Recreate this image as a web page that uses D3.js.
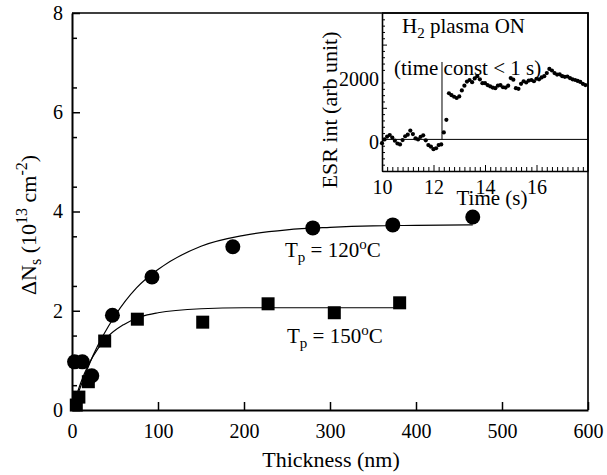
<!DOCTYPE html>
<html><head><meta charset="utf-8">
<script src="https://cdn.jsdelivr.net/npm/d3@7"></script>
<style>
html,body{margin:0;padding:0;background:#fff;}
svg text{font-family:"Liberation Serif","Times New Roman",serif;fill:#000;}
</style></head>
<body>
<svg id="chart" width="607" height="475"></svg>
<script>
// ---- Main chart data ----
const thick120 = [3, 12, 23, 47, 93, 187, 280, 373, 466];
const dNs120   = [0.97, 0.97, 0.69, 1.91, 2.68, 3.29, 3.67, 3.73, 3.89];
const thick150 = [5, 8, 19, 38, 76, 152, 228, 305, 381];
const dNs150   = [0.1, 0.26, 0.57, 1.39, 1.83, 1.77, 2.14, 1.96, 2.16];
// fitted curves
const fitX120 = [0, 25, 50, 75, 100, 150, 200, 250, 300, 350, 400, 466];
const fitY120 = [0, 1.12, 1.90, 2.46, 2.83, 3.30, 3.52, 3.63, 3.68, 3.71, 3.72, 3.73];
const fitX150 = [0, 10, 20, 30, 40, 60, 80, 100, 150, 200, 250, 381];
const fitY150 = [0, 0.54, 0.94, 1.23, 1.45, 1.72, 1.88, 1.96, 2.04, 2.06, 2.06, 2.06];
const xTicks = [0, 100, 200, 300, 400, 500, 600];
const yTicks = [0, 2, 4, 6, 8];

// ---- Inset data (ESR intensity vs time) ----
const esrTime = [
 10.0,10.1,10.2,10.3,10.4,10.5,10.6,10.7,10.8,10.9,
 11.0,11.1,11.2,11.3,11.4,11.5,11.6,11.7,11.8,11.9,
 12.0,12.1,12.2,12.3,12.4,12.5,12.6,12.7,12.8,12.9,
 13.0,13.1,13.2,13.3,13.4,13.5,13.6,13.7,13.8,13.9,
 14.0,14.1,14.2,14.3,14.4,14.5,14.6,14.7,14.8,14.9,
 15.0,15.1,15.2,15.3,15.4,15.5,15.6,15.7,15.8,15.9,
 16.0,16.1,16.2,16.3,16.4,16.5,16.6,16.7,16.8,16.9,
 17.0,17.1,17.2,17.3,17.4,17.5,17.6,17.7,17.8,17.9];
const esrInt = [
 -120,0,90,140,60,-40,-130,-160,-20,100,
 150,280,170,30,0,80,130,-30,-180,-230,
 -310,-280,-180,-160,220,620,1460,1400,1350,1310,
 1360,1550,1700,1830,1880,1810,1930,2000,1900,1780,
 1780,1720,1680,1640,1620,1700,1720,1650,1640,1700,
 1940,1890,1620,1600,1760,1840,1800,1860,1880,1840,
 1920,1900,1960,2000,2100,2230,2180,2100,2050,2060,
 2000,1980,1990,1940,1900,1880,1850,1820,1760,1720];
const insetXTicks = [10, 12, 14, 16];
const insetYTicks = [0, 2000];
const stepTime = 12.33;

const svg = d3.select("#chart");

// ---- Main scales ----
const x = d3.scaleLinear().domain([0, 600]).range([72, 588]);
const y = d3.scaleLinear().domain([0, 8]).range([410, 13]);

// frame (top and right)
svg.append("path").attr("d", `M${x(0)},${y(8)}H${x(600)}V${y(0)}`)
  .attr("fill","none").attr("stroke","#000").attr("stroke-width",1.6);

// bottom axis
const xAxis = d3.axisBottom(x).tickValues(xTicks).tickSizeInner(-8).tickSizeOuter(0).tickPadding(14);
const gx = svg.append("g").attr("transform",`translate(0,${y(0)})`).call(xAxis);
gx.select(".domain").attr("stroke-width",2);
gx.selectAll(".tick line").attr("stroke-width",1.5);
gx.selectAll("text").attr("font-size",20).attr("font-family","Liberation Serif").attr("dy","0.71em");

// left axis major
const yAxis = d3.axisLeft(y).tickValues(yTicks).tickSizeInner(-8).tickSizeOuter(0).tickPadding(9);
const gy = svg.append("g").attr("transform",`translate(${x(0)},0)`).call(yAxis);
gy.select(".domain").attr("stroke-width",2);
gy.selectAll(".tick line").attr("stroke-width",1.5);
gy.selectAll("text").attr("font-size",20).attr("font-family","Liberation Serif");
// left axis minor
const yMinor = d3.range(0.5, 8, 1);
svg.append("g").attr("transform",`translate(${x(0)},0)`)
  .call(d3.axisLeft(y).tickValues(yMinor).tickSizeInner(-5).tickSizeOuter(0).tickFormat(""))
  .call(g => g.select(".domain").remove())
  .selectAll("line").attr("stroke-width",1.5);

// fitted curves
const line = d3.line().x(d => x(d[0])).y(d => y(d[1])).curve(d3.curveMonotoneX);
svg.append("path").datum(fitX120.map((v,i)=>[v,fitY120[i]]))
  .attr("d", line).attr("fill","none").attr("stroke","#000").attr("stroke-width",1.2);
svg.append("path").datum(fitX150.map((v,i)=>[v,fitY150[i]]))
  .attr("d", line).attr("fill","none").attr("stroke","#000").attr("stroke-width",1.2);

// markers
svg.append("g").selectAll("rect").data(thick150.map((v,i)=>[v,dNs150[i]])).join("rect")
  .attr("x", d => x(d[0]) - 6.5).attr("y", d => y(d[1]) - 6.5)
  .attr("width", 13).attr("height", 13).attr("fill","#000");
svg.append("g").selectAll("circle").data(thick120.map((v,i)=>[v,dNs120[i]])).join("circle")
  .attr("cx", d => x(d[0])).attr("cy", d => y(d[1])).attr("r", 7.5).attr("fill","#000");

// annotations
function tpLabel(tx, ty, temp){
  const t = svg.append("text").attr("x", tx).attr("y", ty).attr("font-size", 21);
  t.append("tspan").text("T");
  t.append("tspan").attr("dy", 5).attr("font-size", 15).text("p");
  t.append("tspan").attr("dy", -5).text(" = " + temp);
  t.append("tspan").attr("dy", -8).attr("font-size", 15).text("o");
  t.append("tspan").attr("dy", 8).text("C");
}
tpLabel(285, 257, "120");
tpLabel(287, 343, "150");

// axis titles
svg.append("text").attr("x", 331).attr("y", 467).attr("text-anchor","middle")
  .attr("font-size", 22).text("Thickness (nm)");
{
  const t = svg.append("text").attr("transform","translate(36,225) rotate(-90)")
    .attr("text-anchor","middle").attr("font-size", 22);
  t.append("tspan").text("ΔN");
  t.append("tspan").attr("dy", 5).attr("font-size", 16).text("s");
  t.append("tspan").attr("dy", -5).text(" (10");
  t.append("tspan").attr("dy", -9).attr("font-size", 16).text("13");
  t.append("tspan").attr("dy", 9).text(" cm");
  t.append("tspan").attr("dy", -9).attr("font-size", 16).text("-2");
  t.append("tspan").attr("dy", 9).text(")");
}

// ---- Inset ----
const xi = d3.scaleLinear().domain([10, 18]).range([382, 588]);
const yi = d3.scaleLinear().domain([-1000, 4000]).range([171, 13]);

// zero line and step marker
svg.append("line").attr("x1", xi(10)).attr("x2", xi(18)).attr("y1", yi(0)).attr("y2", yi(0))
  .attr("stroke","#000").attr("stroke-width",1);
svg.append("line").attr("x1", xi(stepTime)).attr("x2", xi(stepTime)).attr("y1", yi(0)).attr("y2", yi(2450))
  .attr("stroke","#000").attr("stroke-width",1);

// inset axes
const gxi = svg.append("g").attr("transform",`translate(0,${yi(-1000)})`)
  .call(d3.axisBottom(xi).tickValues(insetXTicks).tickSizeInner(-6).tickSizeOuter(0).tickPadding(9).tickFormat(d3.format("d")));
gxi.select(".domain").attr("stroke-width",1.6);
gxi.selectAll("text").attr("font-size",20).attr("font-family","Liberation Serif").attr("dy","0.71em");
svg.append("g").attr("transform",`translate(0,${yi(-1000)})`)
  .call(d3.axisBottom(xi).tickValues(d3.range(10.2, 18, 0.2).filter(v => Math.abs(v - Math.round(v/2)*2) > 0.05))
    .tickSizeInner(-4).tickSizeOuter(0).tickFormat(""))
  .call(g => g.select(".domain").remove());

const gyi = svg.append("g").attr("transform",`translate(${xi(10)},0)`)
  .call(d3.axisLeft(yi).tickValues(insetYTicks).tickSizeInner(0).tickSizeOuter(0).tickPadding(3).tickFormat(d3.format("d")));
gyi.select(".domain").attr("stroke-width",1.6);
gyi.selectAll("text").attr("font-size",20).attr("font-family","Liberation Serif").attr("dy","0.45em");
svg.append("g").attr("transform",`translate(${xi(10)},0)`)
  .call(d3.axisLeft(yi).tickValues([-1000, 1000, 3000]).tickSizeInner(-5).tickSizeOuter(0).tickFormat(""))
  .call(g => g.select(".domain").remove());
svg.append("g").attr("transform",`translate(${xi(10)},0)`)
  .call(d3.axisLeft(yi).tickValues(d3.range(-800, 4000, 200).filter(v => v % 1000 !== 0))
    .tickSizeInner(-3).tickSizeOuter(0).tickFormat(""))
  .call(g => g.select(".domain").remove());

// inset frame top/right/bottom
svg.append("path").attr("d", `M${xi(10)},${yi(4000)}H${xi(18)}V${yi(-1000)}`)
  .attr("fill","none").attr("stroke","#000").attr("stroke-width",1.6);

// inset data
svg.append("g").selectAll("circle").data(esrTime.map((t,i)=>[t, esrInt[i]])).join("circle")
  .attr("cx", d => xi(d[0])).attr("cy", d => yi(d[1])).attr("r", 2.1).attr("fill","#000");

// inset texts
{
  const t = svg.append("text").attr("x", 402).attr("y", 33).attr("font-size", 21);
  t.append("tspan").text("H");
  t.append("tspan").attr("dy", 5).attr("font-size", 15).text("2");
  t.append("tspan").attr("dy", -5).text(" plasma ON");
}
svg.append("text").attr("x", 394).attr("y", 75).attr("font-size", 21).text("(time const < 1 s)");
svg.append("text").attr("transform","translate(337,110) rotate(-90)").attr("text-anchor","middle")
  .attr("font-size", 22).text("ESR int (arb unit)");
svg.append("text").attr("x", 492).attr("y", 205).attr("text-anchor","middle")
  .attr("font-size", 21).text("Time (s)");
</script>
</body></html>
